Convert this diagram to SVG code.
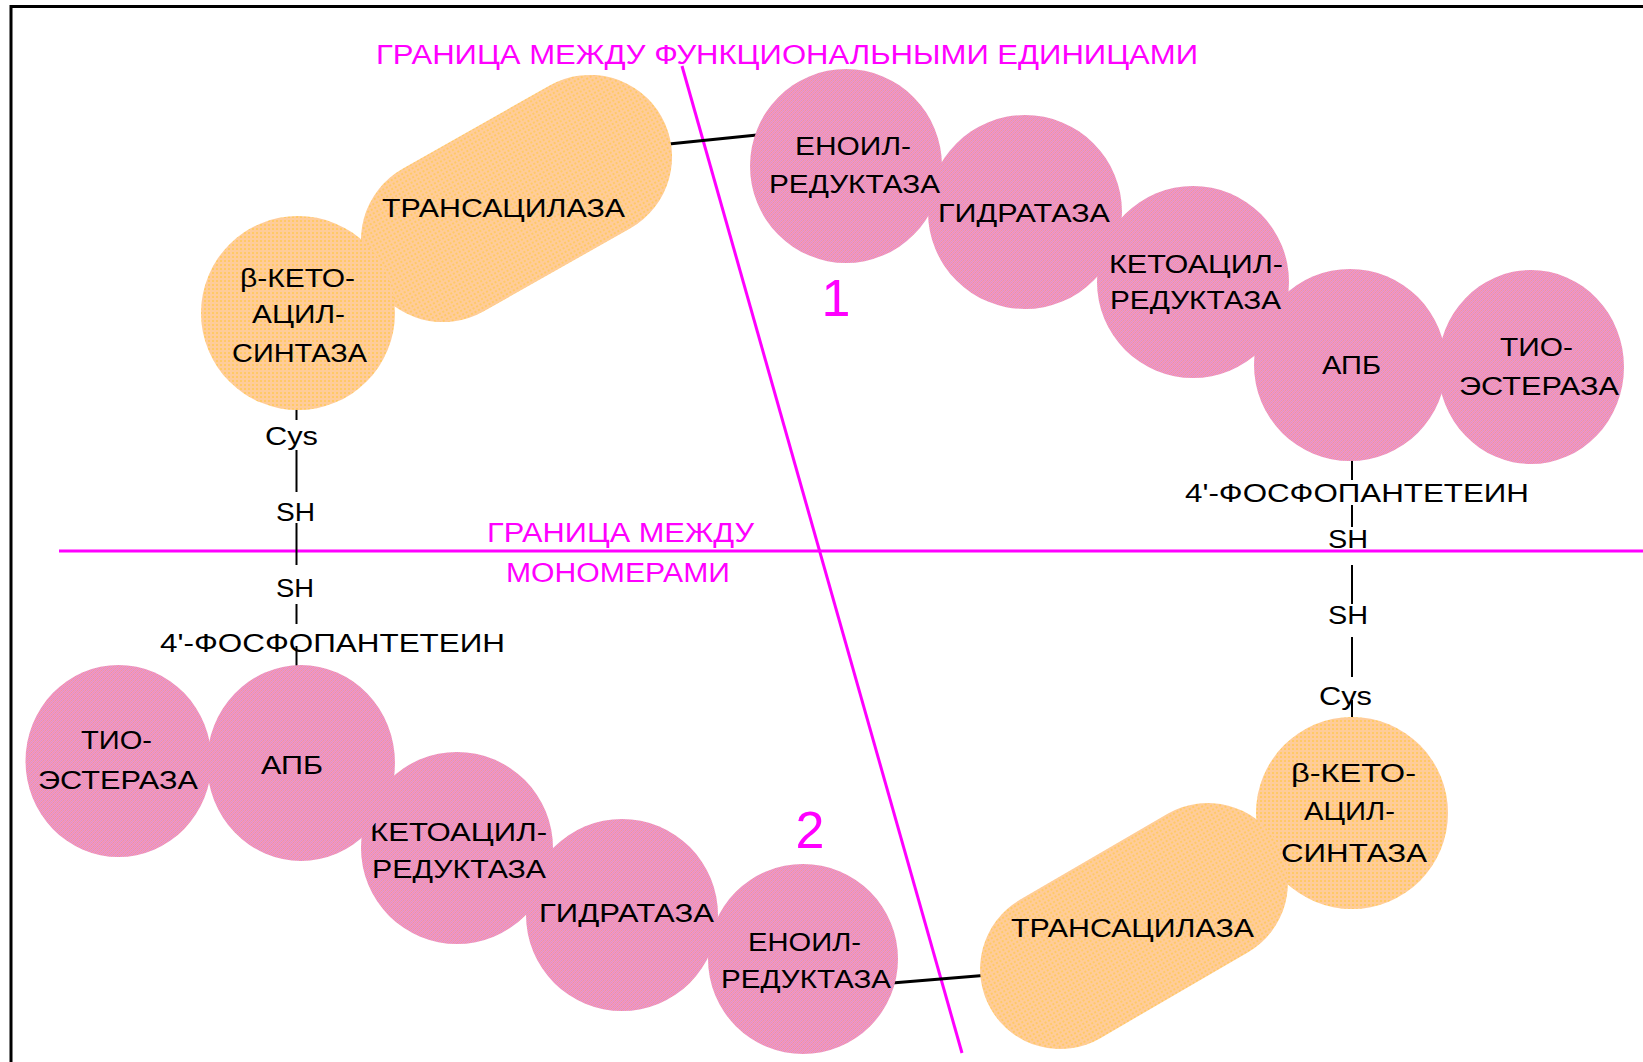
<svg xmlns="http://www.w3.org/2000/svg" width="1643" height="1062" viewBox="0 0 1643 1062">
<style>
.lbl{font-family:"Liberation Sans",Arial,sans-serif;font-size:25px;fill:#000}
.mg{font-family:"Liberation Sans",Arial,sans-serif;font-size:27px;fill:#FF00FF}
.num{font-family:"Liberation Sans",Arial,sans-serif;font-size:52px;fill:#FF00FF;text-anchor:middle}
.or{fill:url(#orangeP)}
.pk{fill:url(#pinkP)}
.bl{stroke:#000;stroke-width:3;fill:none}
.vl{stroke:#000;stroke-width:2;fill:none}
.mgl{stroke:#FF00FF;stroke-width:3;fill:none}
</style>
<defs>
<pattern id="orangeP" patternUnits="userSpaceOnUse" width="4" height="4">
<rect width="4" height="4" fill="#FFCC99"/>
<rect width="2" height="2" fill="#FFC966"/>
</pattern>
<pattern id="pinkP" patternUnits="userSpaceOnUse" width="4" height="4">
<rect width="4" height="4" fill="#FA8EC6"/>
<rect x="1" y="0" width="1" height="1" fill="#D49CC8"/>
<rect x="3" y="0" width="1" height="1" fill="#E49C9E"/>
<rect x="0" y="1" width="1" height="1" fill="#DCA0BE"/>
<rect x="2" y="1" width="1" height="1" fill="#E898B0"/>
<rect x="1" y="2" width="1" height="1" fill="#E49C9E"/>
<rect x="3" y="2" width="1" height="1" fill="#D49CC8"/>
<rect x="0" y="3" width="1" height="1" fill="#E898B0"/>
<rect x="2" y="3" width="1" height="1" fill="#DCA0BE"/>
</pattern>
</defs>
<rect width="1643" height="1062" fill="#fff"/>
<g id="frame">
<line x1="11" y1="5" x2="11" y2="1062" stroke="#000" stroke-width="3"/>
<line x1="10" y1="6.5" x2="1643" y2="6.5" stroke="#000" stroke-width="3"/>
</g>
<g id="boundaries">
<line class="mgl" x1="682" y1="66" x2="962" y2="1053"/>
<line class="mgl" x1="59" y1="551" x2="1643" y2="551"/>
<text class="mg" x="376" y="64" textLength="822" lengthAdjust="spacingAndGlyphs">ГРАНИЦА МЕЖДУ ФУНКЦИОНАЛЬНЫМИ  ЕДИНИЦАМИ</text>
<text class="mg" x="487" y="542" textLength="267" lengthAdjust="spacingAndGlyphs">ГРАНИЦА МЕЖДУ</text>
<text class="mg" x="506" y="582" textLength="224" lengthAdjust="spacingAndGlyphs">МОНОМЕРАМИ</text>
<text class="num" x="836" y="316">1</text>
<text class="num" x="810" y="848">2</text>
</g>
<g id="connectors">
<line class="bl" x1="659" y1="145" x2="757" y2="135"/>
<line class="bl" x1="892" y1="983" x2="989" y2="975"/>
<line class="vl" x1="296.5" y1="408" x2="296.5" y2="420"/>
<line class="vl" x1="296.5" y1="450" x2="296.5" y2="492"/>
<line class="vl" x1="296.5" y1="523" x2="296.5" y2="565"/>
<line class="vl" x1="296.5" y1="604" x2="296.5" y2="624"/>
<line class="vl" x1="296.5" y1="646" x2="296.5" y2="667"/>
<line class="vl" x1="1352" y1="460" x2="1352" y2="480"/>
<line class="vl" x1="1352" y1="505" x2="1352" y2="527"/>
<line class="vl" x1="1352" y1="565" x2="1352" y2="604"/>
<line class="vl" x1="1352" y1="637" x2="1352" y2="677"/>
<line class="vl" x1="1352" y1="700" x2="1352" y2="720"/>
</g>
<g id="transacylase-1">
<rect class="or" x="350" y="116.5" width="333" height="164" rx="82" transform="rotate(-29.5 516.5 198.5)"/>
<text class="lbl" x="382" y="217" textLength="243" lengthAdjust="spacingAndGlyphs">ТРАНСАЦИЛАЗА</text>
</g>
<g id="ketoacyl-synthase-1">
<circle class="or" cx="298" cy="313" r="97"/>
<text class="lbl" x="240" y="287" textLength="115" lengthAdjust="spacingAndGlyphs">β-КЕТО-</text>
<text class="lbl" x="252" y="323" textLength="93" lengthAdjust="spacingAndGlyphs">АЦИЛ-</text>
<text class="lbl" x="232" y="362" textLength="135" lengthAdjust="spacingAndGlyphs">СИНТАЗА</text>
</g>
<g id="cys-1"><text class="lbl" x="265" y="445" textLength="53" lengthAdjust="spacingAndGlyphs">Cys</text></g>
<g id="sh-1a"><text class="lbl" x="276" y="521" textLength="39" lengthAdjust="spacingAndGlyphs">SH</text></g>
<g id="sh-2a"><text class="lbl" x="276" y="597" textLength="38" lengthAdjust="spacingAndGlyphs">SH</text></g>
<g id="phosphopantetheine-2"><text class="lbl" x="160" y="652" textLength="345" lengthAdjust="spacingAndGlyphs">4'-ФОСФОПАНТЕТЕИН</text></g>
<g id="enoyl-reductase-2">
<circle class="pk" cx="803" cy="959" r="95"/>
<text class="lbl" x="748" y="951" textLength="113" lengthAdjust="spacingAndGlyphs">ЕНОИЛ-</text>
<text class="lbl" x="721" y="988" textLength="170" lengthAdjust="spacingAndGlyphs">РЕДУКТАЗА</text>
</g>
<g id="hydratase-2">
<circle class="pk" cx="622" cy="915" r="96"/>
<text class="lbl" x="539" y="922" textLength="175" lengthAdjust="spacingAndGlyphs">ГИДРАТАЗА</text>
</g>
<g id="ketoacyl-reductase-2">
<circle class="pk" cx="457" cy="848" r="96"/>
<text class="lbl" x="370" y="841" textLength="177" lengthAdjust="spacingAndGlyphs">КЕТОАЦИЛ-</text>
<text class="lbl" x="372" y="878" textLength="174" lengthAdjust="spacingAndGlyphs">РЕДУКТАЗА</text>
</g>
<g id="acp-2">
<ellipse class="pk" cx="301" cy="763" rx="94" ry="98"/>
<text class="lbl" x="261" y="774" textLength="62" lengthAdjust="spacingAndGlyphs">АПБ</text>
</g>
<g id="thioesterase-2">
<ellipse class="pk" cx="118.5" cy="761" rx="93" ry="96"/>
<text class="lbl" x="81" y="749" textLength="71" lengthAdjust="spacingAndGlyphs">ТИО-</text>
<text class="lbl" x="38" y="789" textLength="160" lengthAdjust="spacingAndGlyphs">ЭСТЕРАЗА</text>
</g>
<g id="thioesterase-1">
<ellipse class="pk" cx="1531" cy="367" rx="93" ry="97"/>
<text class="lbl" x="1500" y="356" textLength="73" lengthAdjust="spacingAndGlyphs">ТИО-</text>
<text class="lbl" x="1459" y="395" textLength="160" lengthAdjust="spacingAndGlyphs">ЭСТЕРАЗА</text>
</g>
<g id="acp-1">
<circle class="pk" cx="1350" cy="365" r="96"/>
<text class="lbl" x="1322" y="374" textLength="59" lengthAdjust="spacingAndGlyphs">АПБ</text>
</g>
<g id="ketoacyl-reductase-1">
<circle class="pk" cx="1193" cy="282" r="96"/>
<text class="lbl" x="1109" y="273" textLength="174" lengthAdjust="spacingAndGlyphs">КЕТОАЦИЛ-</text>
<text class="lbl" x="1110" y="309" textLength="171" lengthAdjust="spacingAndGlyphs">РЕДУКТАЗА</text>
</g>
<g id="hydratase-1">
<circle class="pk" cx="1025" cy="212" r="97"/>
<text class="lbl" x="938" y="222" textLength="172" lengthAdjust="spacingAndGlyphs">ГИДРАТАЗА</text>
</g>
<g id="enoyl-reductase-1">
<ellipse class="pk" cx="846" cy="166" rx="96" ry="97"/>
<text class="lbl" x="795" y="155" textLength="116" lengthAdjust="spacingAndGlyphs">ЕНОИЛ-</text>
<text class="lbl" x="769" y="193" textLength="171" lengthAdjust="spacingAndGlyphs">РЕДУКТАЗА</text>
</g>
<g id="phosphopantetheine-1"><text class="lbl" x="1185" y="502" textLength="344" lengthAdjust="spacingAndGlyphs">4'-ФОСФОПАНТЕТЕИН</text></g>
<g id="sh-1b"><text class="lbl" x="1328" y="548" textLength="40" lengthAdjust="spacingAndGlyphs">SH</text></g>
<g id="sh-2b"><text class="lbl" x="1328" y="624" textLength="40" lengthAdjust="spacingAndGlyphs">SH</text></g>
<g id="cys-2"><text class="lbl" x="1319" y="705" textLength="53" lengthAdjust="spacingAndGlyphs">Cys</text></g>
<g id="ketoacyl-synthase-2">
<circle class="or" cx="1352" cy="813" r="96"/>
<text class="lbl" x="1291" y="782" textLength="125" lengthAdjust="spacingAndGlyphs">β-КЕТО-</text>
<text class="lbl" x="1304" y="820" textLength="91" lengthAdjust="spacingAndGlyphs">АЦИЛ-</text>
<text class="lbl" x="1281" y="862" textLength="146" lengthAdjust="spacingAndGlyphs">СИНТАЗА</text>
</g>
<g id="transacylase-2">
<rect class="or" x="968.5" y="846" width="331" height="160" rx="80" transform="rotate(-30.2 1134 926)"/>
<text class="lbl" x="1011" y="937" textLength="243" lengthAdjust="spacingAndGlyphs">ТРАНСАЦИЛАЗА</text>
</g>
</svg>
